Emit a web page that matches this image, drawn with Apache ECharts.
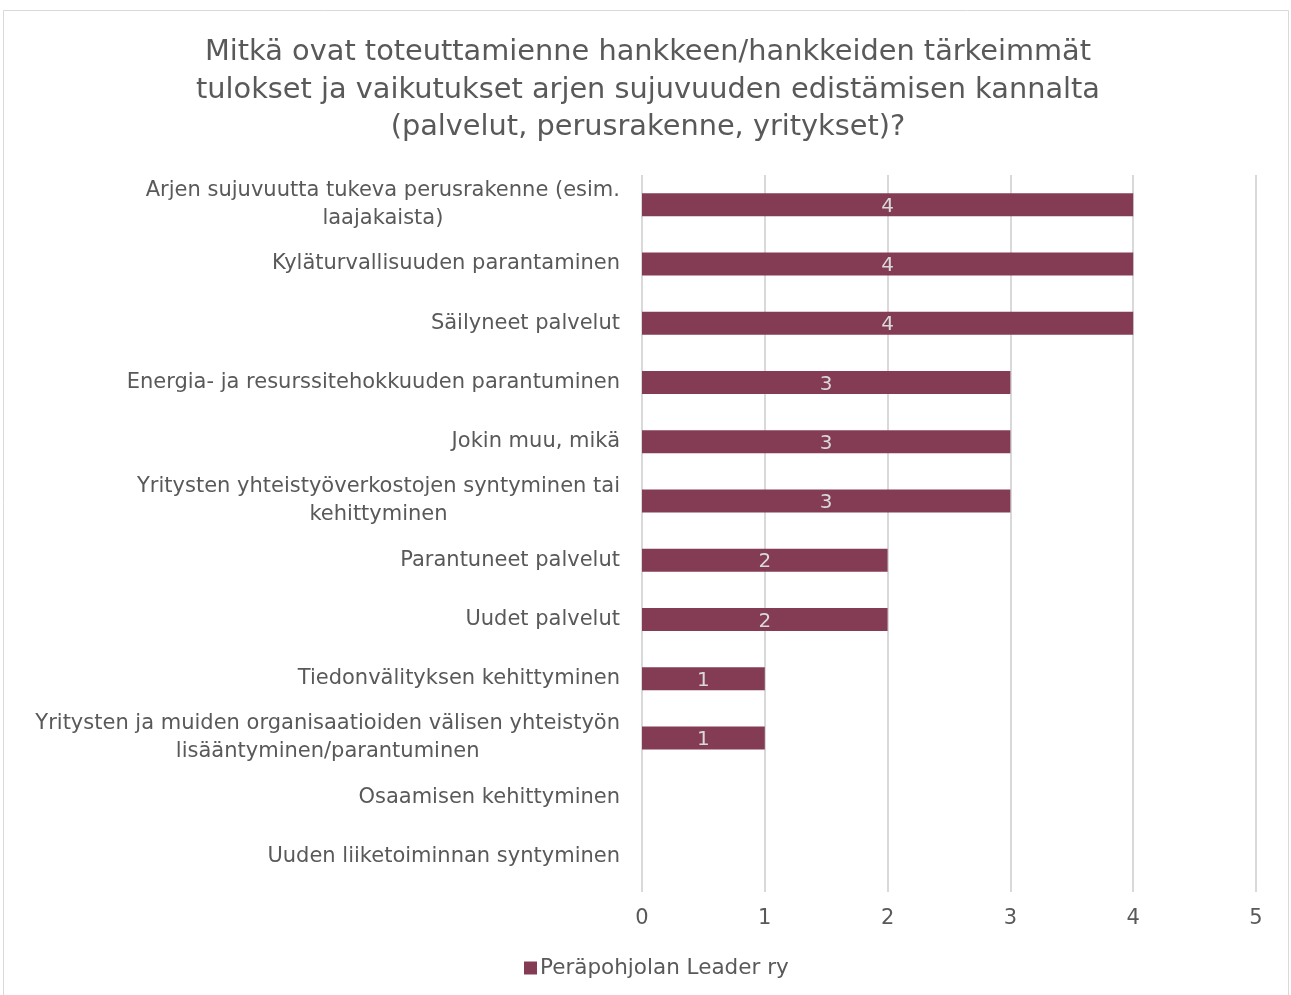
<!DOCTYPE html>
<html>
<head>
<meta charset="utf-8">
<script src="https://cdn.jsdelivr.net/npm/echarts@6/dist/echarts.min.js"></script>
<style>
  html, body { margin: 0; padding: 0; background: #fff; }
  #chart { width: 1291px; height: 995px; }
</style>
</head>
<body>
<div id="chart"></div>
<script>
const categories = [
  'Arjen sujuvuutta tukeva perusrakenne (esim.\nlaajakaista)',
  'Kyläturvallisuuden parantaminen',
  'Säilyneet palvelut',
  'Energia- ja resurssitehokkuuden parantuminen',
  'Jokin muu, mikä',
  'Yritysten yhteistyöverkostojen syntyminen tai\nkehittyminen',
  'Parantuneet palvelut',
  'Uudet palvelut',
  'Tiedonvälityksen kehittyminen',
  'Yritysten ja muiden organisaatioiden välisen yhteistyön\nlisääntyminen/parantuminen',
  'Osaamisen kehittyminen',
  'Uuden liiketoiminnan syntyminen'
];
const values = [4, 4, 4, 3, 3, 3, 2, 2, 1, 1, 0, 0];
const seriesName = 'Peräpohjolan Leader ry';
const titleText = 'Mitkä ovat toteuttamienne hankkeen/hankkeiden tärkeimmät\ntulokset ja vaikutukset arjen sujuvuuden edistämisen kannalta\n(palvelut, perusrakenne, yritykset)?';

const font = '"DejaVu Sans", sans-serif';
const chart = echarts.init(document.getElementById('chart'));
chart.setOption({
  animation: false,
  graphic: [{
    type: 'rect',
    shape: { x: 3.5, y: 10.5, width: 1285, height: 990 },
    style: { fill: 'none', stroke: '#d9d9d9', lineWidth: 1 },
    silent: true
  }],
  title: {
    text: titleText,
    left: 643,
    textAlign: 'center',
    top: 29,
    textStyle: {
      fontFamily: font,
      fontSize: 28.8,
      fontWeight: 'normal',
      color: '#595959',
      lineHeight: 37.5
    }
  },
  legend: {
    bottom: 11,
    left: 519,
    itemWidth: 13,
    itemHeight: 13,
    itemGap: 4,
    icon: 'rect',
    textStyle: { fontFamily: font, fontSize: 21.5, color: '#595959', padding: [0, 0, 0, -2] },
    data: [seriesName]
  },
  grid: {
    left: 642,
    right: 35,
    top: 175,
    bottom: 109,
    containLabel: false
  },
  xAxis: {
    type: 'value',
    min: 0,
    max: 5,
    interval: 1,
    axisLine: { show: false },
    axisTick: { show: true, length: 6, lineStyle: { color: '#d9d9d9', width: 2 } },
    splitLine: { show: true, lineStyle: { color: '#d9d9d9', width: 2 } },
    axisLabel: { fontFamily: font, fontSize: 21, color: '#595959', margin: 22 }
  },
  yAxis: {
    type: 'category',
    inverse: true,
    data: categories,
    axisLine: { show: false },
    axisTick: { show: false },
    axisLabel: {
      fontFamily: font,
      fontSize: 21,
      color: '#595959',
      margin: 22,
      lineHeight: 28,
      align: 'right',
      formatter: function (v) {
        return v.split('\n').map(function (s) { return '{c|' + s + '}'; }).join('\n');
      },
      rich: {
        c: { align: 'center', fontFamily: font, fontSize: 21, color: '#595959', lineHeight: 28 }
      }
    }
  },
  series: [{
    name: seriesName,
    type: 'bar',
    data: values,
    barWidth: 23,
    itemStyle: { color: '#843c54' },
    label: {
      show: true,
      position: 'inside',
      fontFamily: font,
      fontSize: 20,
      color: '#d9d9d9',
      offset: [0, 2],
      formatter: function (p) { return p.value > 0 ? p.value : ''; }
    }
  }]
});
</script>
</body>
</html>
